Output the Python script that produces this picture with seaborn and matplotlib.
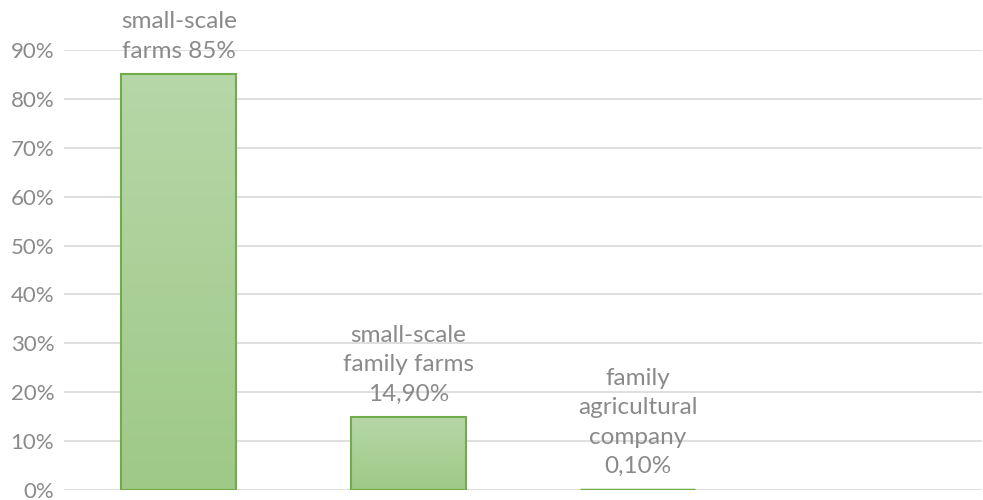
import numpy as np
import pandas as pd
import matplotlib
matplotlib.use("Agg")
import matplotlib.pyplot as plt
import seaborn as sns
from matplotlib.colors import LinearSegmentedColormap

# chart data
categories = ["small-scale farms", "small-scale family farms", "family agricultural company", ""]
shares = [85.0, 14.9, 0.1, np.nan]
labels = ["small-scale\nfarms 85%", "small-scale\nfamily farms\n14,90%", "family\nagricultural\ncompany\n0,10%", ""]
yticks = [0, 10, 20, 30, 40, 50, 60, 70, 80, 90]

sns.set_style("white")
plt.rcParams['font.family'] = ['Lato', 'DejaVu Sans']

df = pd.DataFrame({"cat": categories, "share": shares})

fig = plt.figure(figsize=(9.83, 5.0), dpi=100)
ax = fig.add_axes([64 / 983, 10 / 500, 918 / 983, 440 / 500])

sns.barplot(data=df, x="cat", y="share", ax=ax, width=0.5,
            color="#a9d096", edgecolor="#70ad47", linewidth=1.5, zorder=3)

ax.set_ylim(0, 90)
ax.set_xlim(-0.5, 3.5)
ax.set_yticks(yticks)
ax.set_yticklabels([f"{t}%" for t in yticks])
ax.tick_params(axis="y", labelsize=16, labelcolor="#8a8a8a", length=0, pad=7)
ax.set_xticks([])
ax.set_xlabel("")
ax.set_ylabel("")
ax.grid(axis="y", color="#d9d9d9", linewidth=1.2, zorder=0)
for s in ax.spines.values():
    s.set_visible(False)

# gradient fill inside each bar
cmap = LinearSegmentedColormap.from_list("g", ["#9ec987", "#b6d7a8"])
grad = np.linspace(0, 1, 256).reshape(-1, 1)
for p in ax.patches:
    h = p.get_height()
    if not np.isfinite(h) or h <= 0:
        continue
    if h < 1:
        # tiny bar: just a green line
        p.set_facecolor("#70ad47")
        p.set_linewidth(2.5)
        continue
    x0 = p.get_x()
    w = p.get_width()
    p.set_facecolor("none")
    im = ax.imshow(grad, cmap=cmap, origin="lower", aspect="auto",
                   extent=[x0, x0 + w, 0, h], zorder=2.5)
    im.set_clip_path(p)

for i, (v, lab) in enumerate(zip(shares, labels)):
    if not lab:
        continue
    ax.annotate(lab, xy=(i, v), xytext=(0, 9), textcoords="offset points",
                ha="center", va="bottom", fontsize=17.5, color="#8a8a8a",
                linespacing=1.5, annotation_clip=False)

fig.savefig("out.png", dpi=100)
